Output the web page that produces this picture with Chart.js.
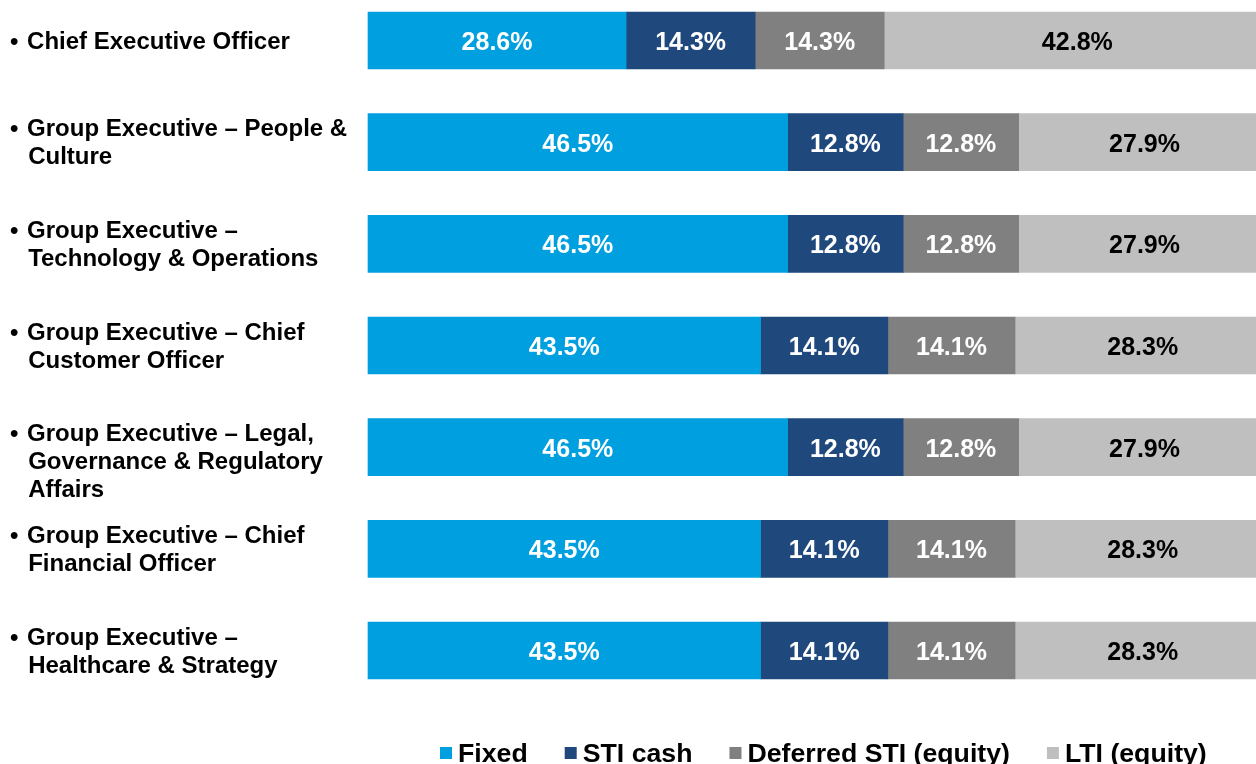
<!DOCTYPE html>
<html>
<head>
<meta charset="utf-8">
<script src="https://cdn.jsdelivr.net/npm/chart.js@4.4.1/dist/chart.umd.min.js"></script>
<style>
  html, body { margin: 0; padding: 0; background: #ffffff; }
  #wrap { width: 1256px; height: 764px; position: relative; }
</style>
</head>
<body>
<div id="wrap"><canvas id="c"></canvas></div>
<script>
// ---- data ----
const categories = [
  ["• \u200AChief Executive Officer"],
  ["• \u200AGroup Executive – People &", "  \u2009Culture"],
  ["• \u200AGroup Executive –", "  \u2009Technology & Operations"],
  ["• \u200AGroup Executive – Chief", "  \u2009Customer Officer"],
  ["", "• \u200AGroup Executive – Legal,", "  \u2009Governance & Regulatory", "  \u2009Affairs"],
  ["• \u200AGroup Executive – Chief", "  \u2009Financial Officer"],
  ["• \u200AGroup Executive –", "  \u2009Healthcare & Strategy"]
];
const seriesNames = ["Fixed", "STI cash", "Deferred STI (equity)", "LTI (equity)"];
const fixedValues    = [28.6, 46.5, 46.5, 43.5, 46.5, 43.5, 43.5];
const stiCashValues  = [14.3, 12.8, 12.8, 14.1, 12.8, 14.1, 14.1];
const deferredValues = [14.3, 12.8, 12.8, 14.1, 12.8, 14.1, 14.1];
const ltiValues      = [42.8, 27.9, 27.9, 28.3, 27.9, 28.3, 28.3];

const colors = ["#009FDF", "#1F497D", "#808080", "#BFBFBF"];
const labelColors = ["#ffffff", "#ffffff", "#ffffff", "#000000"];
const FONT = "'Liberation Sans', Arial, Helvetica, sans-serif";

const valueLabels = {
  id: 'valueLabels',
  afterDatasetsDraw(chart) {
    const ctx = chart.ctx;
    ctx.save();
    ctx.font = "bold 25px " + FONT;
    ctx.textAlign = 'center';
    ctx.textBaseline = 'middle';
    chart.data.datasets.forEach((ds, di) => {
      const meta = chart.getDatasetMeta(di);
      meta.data.forEach((el, i) => {
        const cx = (el.x + el.base) / 2;
        ctx.fillStyle = labelColors[di];
        ctx.fillText(ds.data[i].toFixed(1) + '%', cx, el.y + 2.5);
      });
    });
    ctx.restore();
  }
};

const bottomLegend = {
  id: 'bottomLegend',
  afterDraw(chart) {
    const ctx = chart.ctx;
    ctx.save();
    ctx.font = "bold 26.7px " + FONT;
    ctx.textBaseline = 'alphabetic';
    ctx.textAlign = 'left';
    let x = 440;
    chart.data.datasets.forEach((ds) => {
      ctx.fillStyle = ds.backgroundColor;
      ctx.fillRect(x, 747, 12, 12);
      x += 18;
      ctx.fillStyle = '#000000';
      ctx.fillText(ds.label, x, 762);
      x += ctx.measureText(ds.label).width + 37;
    });
    ctx.restore();
  }
};

const allSeries = [fixedValues, stiCashValues, deferredValues, ltiValues];

new Chart(document.getElementById('c'), {
  type: 'bar',
  data: {
    labels: categories,
    datasets: allSeries.map((vals, i) => ({
      label: seriesNames[i],
      data: vals,
      backgroundColor: colors[i],
      borderWidth: 0,
      barThickness: 57,
      clip: false
    }))
  },
  options: {
    indexAxis: 'y',
    responsive: true,
    maintainAspectRatio: false,
    animation: false,
    layout: { padding: { left: 10, top: 40.5, bottom: 113.5, right: 0 } },
    plugins: {
      legend: { display: false },
      tooltip: { enabled: false }
    },
    scales: {
      x: {
        stacked: true,
        display: false,
        min: 0,
        max: 98.4
      },
      y: {
        stacked: true,
        offset: false,
        grid: { display: false },
        border: { display: false },
        ticks: {
          autoSkip: false,
          crossAlign: 'far',
          color: '#000000',
          padding: 0,
          labelOffset: 1.5,
          font: { family: FONT, size: 24, weight: 'bold', lineHeight: 1.16 }
        },
        afterFit(scale) { scale.width = 358; }
      }
    }
  },
  plugins: [valueLabels, bottomLegend]
});
</script>
</body>
</html>
